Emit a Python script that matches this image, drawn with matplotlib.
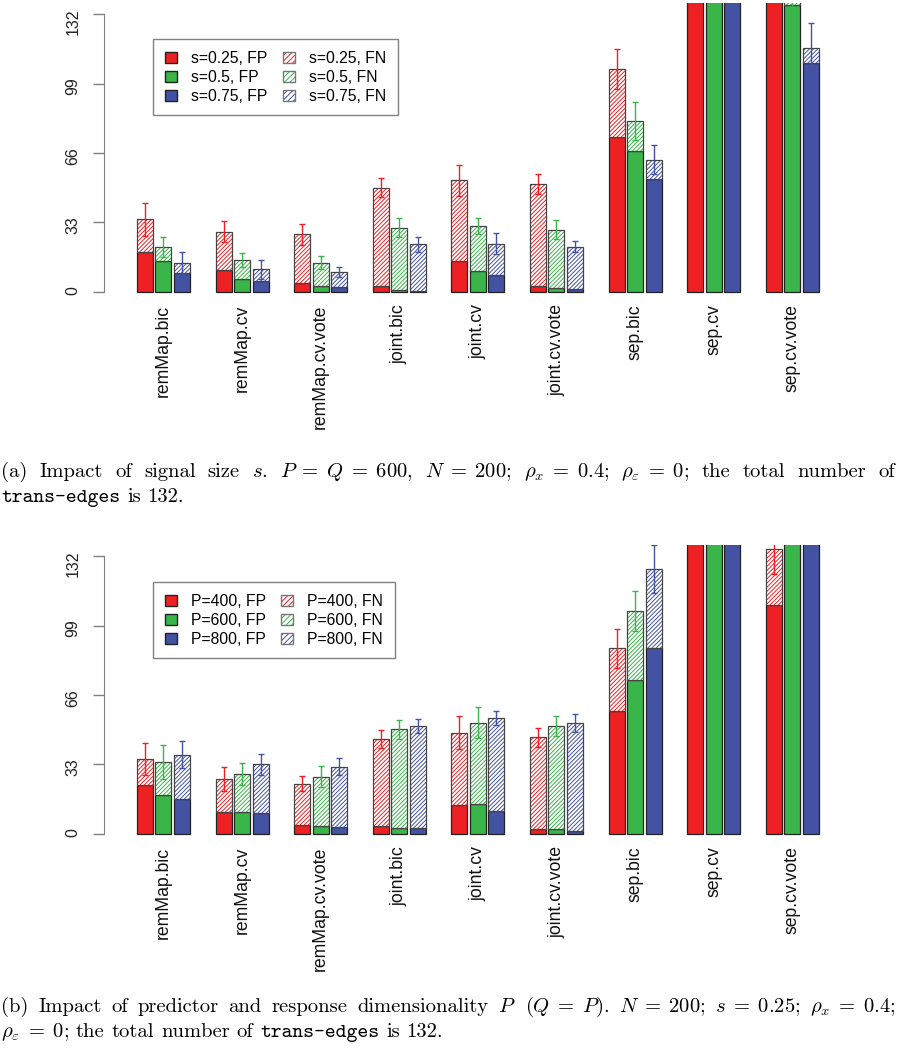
import numpy as np
import matplotlib.pyplot as plt
from matplotlib.patches import Patch
from matplotlib.legend_handler import HandlerTuple

plt.rcParams['font.family'] = 'Liberation Sans'
plt.rcParams['mathtext.fontset'] = 'cm'
plt.rcParams['hatch.linewidth'] = 0.7

methods = ["remMap.bic", "remMap.cv", "remMap.cv.vote", "joint.bic", "joint.cv",
           "joint.cv.vote", "sep.bic", "sep.cv", "sep.cv.vote"]

# panel (a): signal size s
a_series = ["s=0.25", "s=0.5", "s=0.75"]
a_fp = [[18.8, 10.4, 4.0, 2.9, 14.6, 2.7, 73.5, 170, 152],
        [14.6, 6.0, 2.7, 0.8, 10.0, 1.9, 66.8, 165, 136.4],
        [9.2, 5.2, 2.1, 0.5, 7.8, 1.3, 53.7, 160, 108.7]]
a_fn = [[15.6, 18.2, 23.4, 46.6, 38.4, 48.7, 32.4, 2, 4],
        [6.8, 9.2, 11.2, 29.7, 21.2, 27.7, 14.5, 2, 3.6],
        [4.4, 5.6, 7.4, 22.1, 15.1, 20.2, 9.1, 2, 7.3]]
a_err = [[8.0, 5.1, 4.9, 4.4, 7.4, 4.8, 9.3, 10, 10],
         [4.7, 3.5, 3.2, 4.4, 3.8, 4.4, 9.0, 10, 10],
         [5.2, 4.5, 2.4, 3.7, 5.1, 2.6, 7.0, 10, 11.9]]

# panel (b): dimensionality P
b_series = ["P=400", "P=600", "P=800"]
b_fp = [[23.1, 10.6, 4.4, 3.6, 13.9, 2.2, 58.4, 170, 108.9],
        [18.7, 10.3, 3.8, 2.7, 14.4, 2.5, 73.1, 175, 165],
        [16.8, 9.7, 3.2, 2.8, 10.8, 1.3, 88.3, 180, 170]]
b_fn = [[12.5, 15.4, 19.5, 41.5, 34.2, 43.7, 29.8, 2, 26.7],
        [15.6, 18.0, 23.4, 47.0, 38.5, 48.8, 32.6, 2, 2],
        [20.9, 23.4, 28.8, 48.6, 44.1, 51.6, 37.5, 2, 2]]
b_err = [[7.5, 5.8, 3.6, 4.1, 7.9, 4.4, 9.3, 10, 12.1],
         [8.1, 5.2, 5.1, 4.4, 7.3, 4.7, 9.5, 10, 10],
         [6.3, 4.9, 4.1, 3.3, 3.3, 4.3, 11.5, 10, 10]]

colors = ['#ED2024', '#39B54A', '#4452A3']
yticks = [0, 33, 66, 99, 132]

W, H = 898, 1050
fig = plt.figure(figsize=(W / 100, H / 100), dpi=100)

bw = 16 / 78.6
off = 18.5 / 78.6
hatch = '////////'


def draw_panel(top_px, series, fp, fn, err, leg_px):
    ax = fig.add_axes([104 / W, 1 - (top_px + 300) / H, 776 / W, 300 / H])
    x = np.arange(len(methods))
    for k in range(3):
        xs = x + (k - 1) * off
        f = np.array(fp[k])
        n = np.array(fn[k])
        ax.bar(xs, f, width=bw, color=colors[k], edgecolor='#222222', linewidth=0.9)
        ax.bar(xs, n, bottom=f, width=bw, facecolor='white', edgecolor=colors[k],
               hatch=hatch, linewidth=0)
        ax.bar(xs, n, bottom=f, width=bw, fill=False, edgecolor='#444444', linewidth=0.9)
        ax.errorbar(xs, f + n, yerr=err[k], fmt='none', ecolor=colors[k],
                    elinewidth=1, capsize=2.5, capthick=1)
    ax.set_xlim(-0.757, 9.116)
    ax.set_ylim(-5.28, 137.28)
    for s in ['top', 'right', 'bottom']:
        ax.spines[s].set_visible(False)
    ax.spines['left'].set_bounds(0, 132)
    ax.spines['left'].set_color('#808080')
    ax.set_yticks(yticks)
    ax.tick_params(axis='y', length=8, width=1, color='#808080', labelrotation=90,
                   pad=9, labelsize=11.5, labelcolor='#222222')
    ax.set_xticks(x)
    ax.set_xticklabels(methods, rotation=90, fontsize=12.7, color='#111111')
    ax.tick_params(axis='x', length=0, pad=1)

    handles = [Patch(facecolor=c, edgecolor='#222222') for c in colors]
    handles += [(Patch(facecolor='white', edgecolor=c, hatch='//////', linewidth=0),
                 Patch(fill=False, edgecolor='#777777')) for c in colors]
    labels = [s + ", FP" for s in series] + [s + ", FN" for s in series]
    leg = ax.legend(handles, labels, ncol=2, loc='upper left',
                    bbox_to_anchor=(leg_px[0] / W, 1 - leg_px[1] / H),
                    bbox_transform=fig.transFigure, borderaxespad=0,
                    fontsize=11.3, handlelength=0.75, handleheight=0.7,
                    handletextpad=0.9, columnspacing=1.0, labelspacing=0.25,
                    borderpad=0.75, fancybox=False, framealpha=1,
                    handler_map={tuple: HandlerTuple()})
    leg.get_frame().set_edgecolor('#808080')
    leg.get_frame().set_linewidth(1)
    return ax


draw_panel(3, a_series, a_fp, a_fn, a_err, (153, 39))
draw_panel(545, b_series, b_fp, b_fn, b_err, (153, 582))

# captions
renderer = fig.canvas.get_renderer()
cap_size = 14.8


def caption_line(y_px, words, width_px=None):
    texts = []
    for w in words:
        fam = 'cmtt10' if w.startswith('tt:') else 'cmr10'
        s = w[3:] if w.startswith('tt:') else w
        texts.append(fig.text(0, 1 - y_px / H, s, family=fam, size=cap_size,
                              va='baseline', ha='left', color='black'))
    widths = [t.get_window_extent(renderer).width for t in texts]
    if width_px is None:
        gap = cap_size * 0.333 * 100 / 72
    else:
        gap = (width_px - sum(widths)) / (len(words) - 1)
    x = 1.0
    for t, w in zip(texts, widths):
        t.set_x(x / W)
        x += w + gap


caption_line(476.7, ["(a)", "Impact", "of", "signal", "size", r"$s$.",
                     r"$P\;=\;Q\;=\;600$,", r"$N\;=\;200$;", r"$\rho_x\;=\;0.4$;",
                     r"$\rho_\varepsilon\;=\;0$;", "the", "total", "number", "of"], 894)
caption_line(501.7, ["tt:trans-edges", "is", "132."])
caption_line(1011.7, ["(b)", "Impact", "of", "predictor", "and", "response",
                      "dimensionality", "$P$", r"$(Q\;=\;P)$.", r"$N\;=\;200$;",
                      r"$s\;=\;0.25$;", r"$\rho_x\;=\;0.4$;"], 895)
caption_line(1036.7, [r"$\rho_\varepsilon\;=\;0$;", "the", "total", "number", "of",
                      "tt:trans-edges", "is", "132."])

fig.savefig("out.png", dpi=100)
